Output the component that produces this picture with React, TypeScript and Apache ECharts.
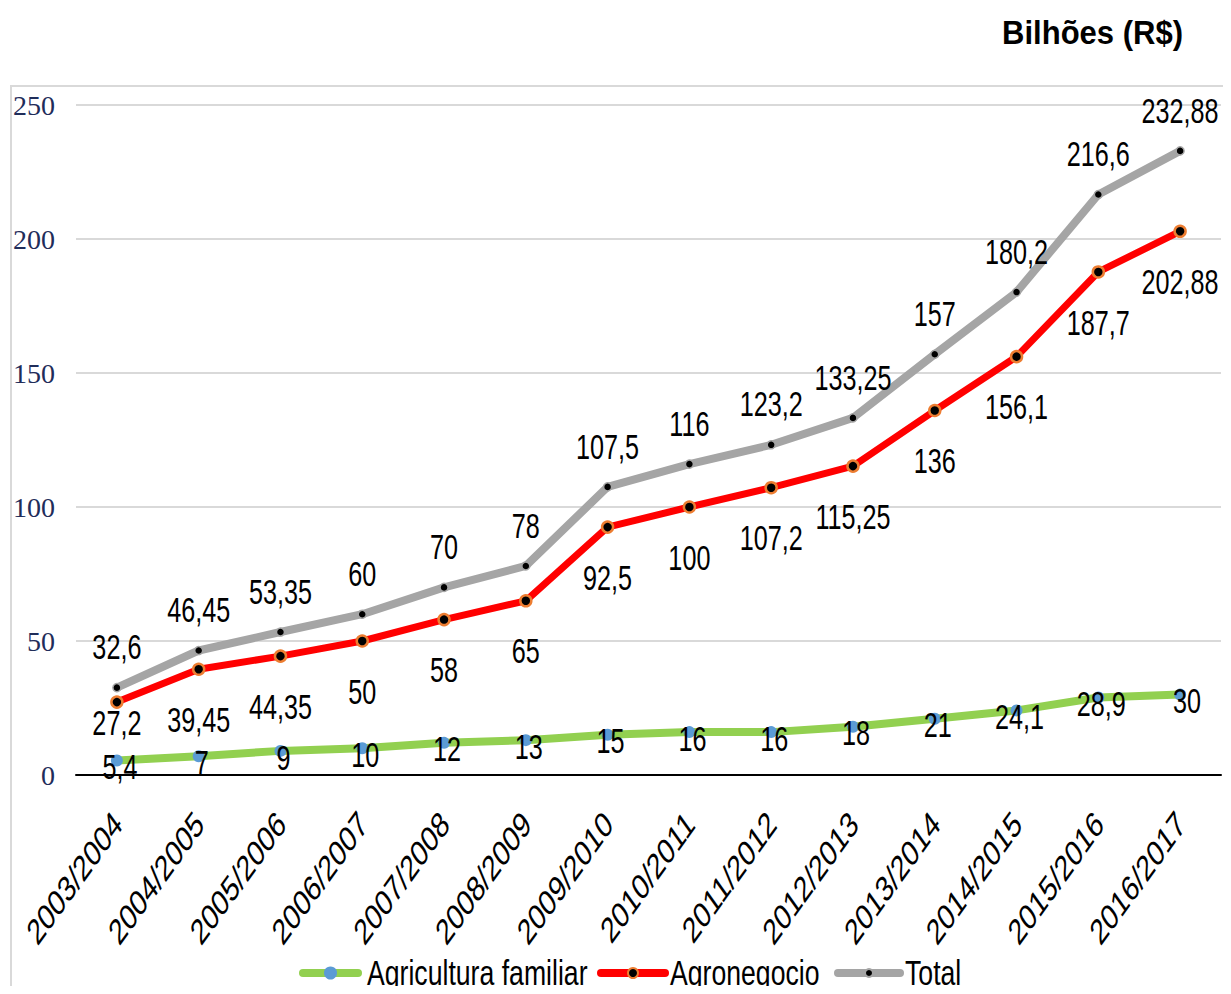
import React, { useEffect, useRef } from "react";
import * as echarts from "echarts";

const categories = [
  "2003/2004", "2004/2005", "2005/2006", "2006/2007", "2007/2008", "2008/2009", "2009/2010",
  "2010/2011", "2011/2012", "2012/2013", "2013/2014", "2014/2015", "2015/2016", "2016/2017",
];
const agriculturaFamiliar = [5.4, 7, 9, 10, 12, 13, 15, 16, 16, 18, 21, 24.1, 28.9, 30];
const agronegocio = [27.2, 39.45, 44.35, 50, 58, 65, 92.5, 100, 107.2, 115.25, 136, 156.1, 187.7, 202.88];
const total = [32.6, 46.45, 53.35, 60, 70, 78, 107.5, 116, 123.2, 133.25, 157, 180.2, 216.6, 232.88];
const seriesNames = ["Agricultura familiar", "Agronegocio", "Total"];

const SANS = "'Liberation Sans', Arial, sans-serif";
const SQUEEZE = 0.72;
const fmt = (v: number) => String(v).replace(".", ",");

function labelSeries(values: number[], dy: (i: number) => number, dx: (i: number) => number) {
  return {
    type: "custom",
    silent: true,
    z: 10,
    clip: false,
    data: values.map((v, i) => [i, v]),
    encode: { x: 0, y: 1 },
    renderItem: (_params: any, api: any) => {
      const i = api.value(0);
      const v = api.value(1);
      const p = api.coord([i, v]);
      return {
        type: "text",
        x: p[0] + dx(i),
        y: p[1] + dy(i),
        scaleX: SQUEEZE,
        style: {
          text: fmt(v),
          fontFamily: SANS,
          fontSize: 35,
          fill: "#000",
          align: "center",
          verticalAlign: "middle",
        },
      };
    },
  };
}

export default function App() {
  const ref = useRef<HTMLDivElement>(null);
  useEffect(() => {
    if (!ref.current) return;
    const chart = echarts.init(ref.current, null, { renderer: "svg" });

    const legendItems = [
      { name: seriesNames[0], x0: 303, x1: 358, line: "#92d050", dot: "#5b9bd5", border: "#5b9bd5", r: 5.5, tx: 367 },
      { name: seriesNames[1], x0: 601, x1: 665, line: "#ff0000", dot: "#000", border: "#ed7d31", r: 5, tx: 670 },
      { name: seriesNames[2], x0: 838, x1: 900, line: "#a5a5a5", dot: "#000", border: "#a5a5a5", r: 4, tx: 905 },
    ];
    const legendGraphics: any[] = [];
    legendItems.forEach((it) => {
      legendGraphics.push({
        type: "line",
        shape: { x1: it.x0, y1: 973, x2: it.x1, y2: 973 },
        style: { stroke: it.line, lineWidth: 8, lineCap: "round" },
        silent: true,
      });
      legendGraphics.push({
        type: "circle",
        shape: { cx: (it.x0 + it.x1) / 2, cy: 973, r: it.r },
        style: { fill: it.dot, stroke: it.border, lineWidth: 2 },
        silent: true,
      });
      legendGraphics.push({
        type: "text",
        x: it.tx,
        y: 972,
        scaleX: 0.74,
        style: { text: it.name, fontFamily: SANS, fontSize: 36, fill: "#000", align: "left", verticalAlign: "middle" },
        silent: true,
      });
    });

    chart.setOption({
      animation: false,
      backgroundColor: "#fff",
      graphic: [
        {
          type: "rect",
          shape: { x: 11, y: 86, width: 1240, height: 960 },
          style: { fill: "none", stroke: "#d9d9d9", lineWidth: 2 },
          silent: true,
          z: -1,
        },
        {
          type: "text",
          x: 1183,
          y: 33,
          scaleX: 0.94,
          style: {
            text: "Bilhões (R$)",
            fontFamily: SANS,
            fontWeight: "bold",
            fontSize: 33,
            fill: "#000",
            align: "right",
            verticalAlign: "middle",
          },
          silent: true,
        },
        ...legendGraphics,
      ],
      grid: { left: 76, right: 10, top: 105, bottom: 219, containLabel: false },
      xAxis: {
        type: "category",
        data: categories,
        boundaryGap: true,
        axisLine: { lineStyle: { color: "#000", width: 2 } },
        axisTick: { show: false },
        axisLabel: { show: false },
      },
      yAxis: {
        type: "value",
        min: 0,
        max: 250,
        interval: 50,
        axisLine: { show: false },
        axisTick: { show: false },
        splitLine: { lineStyle: { color: "#d9d9d9", width: 2 } },
        axisLabel: {
          margin: 21,
          fontFamily: "'Liberation Serif', 'DejaVu Serif', serif",
          fontSize: 28,
          color: "#1f2d5a",
        },
      },
      series: [
        {
          name: seriesNames[2],
          type: "line",
          data: total,
          symbol: "circle",
          symbolSize: 8,
          lineStyle: { color: "#a5a5a5", width: 8 },
          itemStyle: { color: "#000", borderColor: "#a5a5a5", borderWidth: 1.5 },
          z: 2,
        },
        {
          name: seriesNames[1],
          type: "line",
          data: agronegocio,
          symbol: "circle",
          symbolSize: 11,
          lineStyle: { color: "#ff0000", width: 7 },
          itemStyle: { color: "#000", borderColor: "#ed7d31", borderWidth: 2.5 },
          z: 3,
        },
        {
          name: seriesNames[0],
          type: "line",
          data: agriculturaFamiliar,
          symbol: "circle",
          symbolSize: 12,
          lineStyle: { color: "#92d050", width: 8 },
          itemStyle: { color: "#5b9bd5", borderWidth: 0 },
          z: 4,
        },
        // data labels
        labelSeries(total, () => -41, () => 0),
        labelSeries(agronegocio, (i) => (i === 0 ? 20 : 50), () => 0),
        labelSeries(agriculturaFamiliar, () => 6, (i) => (i === categories.length - 1 ? 7 : 3)),
        // category labels (rotated, horizontally squeezed like the source)
        {
          type: "custom",
          silent: true,
          clip: false,
          z: 10,
          data: categories.map((_c, i) => [i, 0]),
          encode: { x: 0, y: 1 },
          renderItem: (_params: any, api: any) => {
            const i = api.value(0);
            const p = api.coord([i, 0]);
            return {
              type: "group",
              x: p[0] + 1,
              y: p[1] + 43,
              scaleX: SQUEEZE,
              children: [
                {
                  type: "text",
                  rotation: Math.PI / 4,
                  style: {
                    text: categories[i],
                    fontFamily: SANS,
                    fontSize: 36,
                    fill: "#000",
                    align: "right",
                    verticalAlign: "middle",
                  },
                },
              ],
            };
          },
        },
      ],
    });
    return () => chart.dispose();
  }, []);
  return <div ref={ref} style={{ width: 1231, height: 994, margin: -8 }} />;
}
